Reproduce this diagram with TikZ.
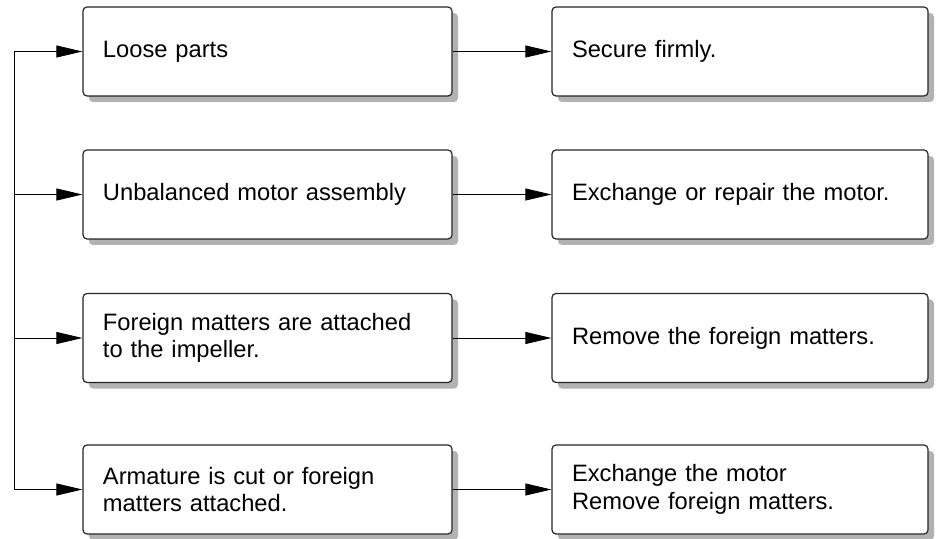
\documentclass[tikz,border=0pt]{standalone}
\usepackage{fontspec}
\setmainfont{Liberation Sans}
\usetikzlibrary{
    arrows.meta,
    shadows
}
\tikzset {
    box/.style = {
        draw = black!85, line width = 1.2bp, fill = white,
        rounded corners = 4bp,
        minimum height = 89bp, inner xsep = 20bp, inner ysep = 0bp,
        align = left,
        font = \fontsize{23.7bp}{27.5bp}\selectfont,
        drop shadow = {shadow xshift = 6bp, shadow yshift = -6bp,
            fill = black!30, opacity = 1}
    },
    cause/.style = {box, text width = 329bp},
    remedy/.style = {box, text width = 336bp},
    link/.style = {line width = 0.9bp},
    arrowed/.style = {link, -{Triangle[length = 26bp, width = 12bp]}}
}
\begin{document}
\begin{tikzpicture}[x = 1bp, y = -1bp]
            \useasboundingbox (0, 0) rectangle (938, 539);
            % causes
            \node (c1) [cause] at (267.5, 51.5) {Loose parts};
            \node (c2) [cause] at (267.5, 194.5) {Unbalanced motor assembly};
            \node (c3) [cause] at (267.5, 338) {Foreign matters are attached\\to the impeller.};
            \node (c4) [cause] at (267.5, 489.5) {Armature is cut or foreign\\matters attached.};
            % remedies
            \node (r1) [remedy] at (740, 51.5) {Secure firmly.};
            \node (r2) [remedy] at (740, 194.5) {Exchange or repair the motor.};
            \node (r3) [remedy] at (740, 338) {Remove the foreign matters.};
            \node (r4) [remedy] at (740, 489.5) {Exchange the motor\\Remove foreign matters.};
            % trunk
            \coordinate (t1) at (14, 51.5);
            \coordinate (t2) at (14, 194.5);
            \coordinate (t3) at (14, 338);
            \coordinate (t4) at (14, 489.5);
            \draw [link] (t1) -- (t4);
            \draw [arrowed] (t1) -- (c1.west);
            \draw [arrowed] (t2) -- (c2.west);
            \draw [arrowed] (t3) -- (c3.west);
            \draw [arrowed] (t4) -- (c4.west);
            \draw [arrowed] (c1.east) -- (r1.west);
            \draw [arrowed] (c2.east) -- (r2.west);
            \draw [arrowed] (c3.east) -- (r3.west);
            \draw [arrowed] (c4.east) -- (r4.west);
        \end{tikzpicture}
\end{document}
